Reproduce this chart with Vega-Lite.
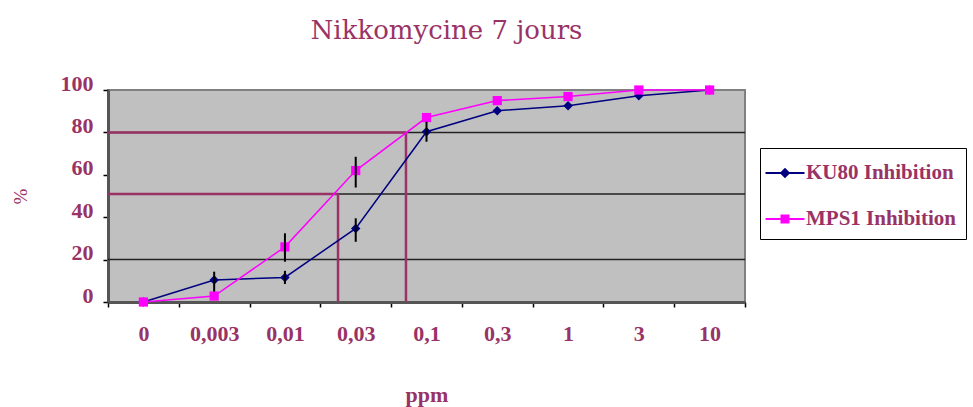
{
  "$schema": "https://vega.github.io/schema/vega-lite/v6.json",
  "width": 637,
  "height": 212,
  "autosize": {"type": "none"},
  "padding": {"left": 108, "top": 90, "right": 228, "bottom": 105},
  "background": "white",
  "title": {
    "text": "Nikkomycine 7 jours",
    "font": "DejaVu Serif",
    "fontSize": 26,
    "fontWeight": "normal",
    "color": "#993366",
    "anchor": "middle",
    "dx": 20,
    "baseline": "bottom",
    "offset": 2
  },
  "config": {
    "view": {"fill": "#c0c0c0", "stroke": "#808080", "strokeWidth": 2}
  },
  "datasets": {
    "series": [
      {"ppm": "0", "pos": 0, "serie": "KU80 Inhibition", "value": 0},
      {"ppm": "0,003", "pos": 1, "serie": "KU80 Inhibition", "value": 10.4},
      {"ppm": "0,01", "pos": 2, "serie": "KU80 Inhibition", "value": 11.6},
      {"ppm": "0,03", "pos": 3, "serie": "KU80 Inhibition", "value": 34.7},
      {"ppm": "0,1", "pos": 4, "serie": "KU80 Inhibition", "value": 80.3},
      {"ppm": "0,3", "pos": 5, "serie": "KU80 Inhibition", "value": 90.2},
      {"ppm": "1", "pos": 6, "serie": "KU80 Inhibition", "value": 92.6},
      {"ppm": "3", "pos": 7, "serie": "KU80 Inhibition", "value": 97.3},
      {"ppm": "10", "pos": 8, "serie": "KU80 Inhibition", "value": 100},
      {"ppm": "0", "pos": 0, "serie": "MPS1 Inhibition", "value": 0},
      {"ppm": "0,003", "pos": 1, "serie": "MPS1 Inhibition", "value": 2.8},
      {"ppm": "0,01", "pos": 2, "serie": "MPS1 Inhibition", "value": 26},
      {"ppm": "0,03", "pos": 3, "serie": "MPS1 Inhibition", "value": 62},
      {"ppm": "0,1", "pos": 4, "serie": "MPS1 Inhibition", "value": 87},
      {"ppm": "0,3", "pos": 5, "serie": "MPS1 Inhibition", "value": 95},
      {"ppm": "1", "pos": 6, "serie": "MPS1 Inhibition", "value": 96.9},
      {"ppm": "3", "pos": 7, "serie": "MPS1 Inhibition", "value": 100},
      {"ppm": "10", "pos": 8, "serie": "MPS1 Inhibition", "value": 100}
    ],
    "errors": [
      {"pos": 1, "serie": "KU80 Inhibition", "lo": 4.9, "hi": 14.3},
      {"pos": 2, "serie": "KU80 Inhibition", "lo": 8.5, "hi": 14.7},
      {"pos": 2, "serie": "MPS1 Inhibition", "lo": 19, "hi": 32.4},
      {"pos": 3, "serie": "KU80 Inhibition", "lo": 28.4, "hi": 39.5},
      {"pos": 3, "serie": "MPS1 Inhibition", "lo": 54, "hi": 68.5},
      {"pos": 4, "serie": "KU80 Inhibition", "lo": 75.6, "hi": 85}
    ],
    "grid": [{"g": 20}, {"g": 51}, {"g": 80}],
    "refs": [
      {"level": 80, "start": -0.5, "end": 3.71, "base": 0},
      {"level": 51, "start": -0.5, "end": 2.75, "base": 0}
    ]
  },
  "layer": [
    {
      "data": {"name": "grid"},
      "mark": {"type": "rule", "color": "#222222", "strokeWidth": 1.5},
      "encoding": {
        "y": {
          "field": "g", "type": "quantitative", "title": "%",
          "scale": {"domain": [0, 100], "nice": false},
          "axis": {
            "values": [0, 20, 40, 60, 80, 100], "grid": false,
            "labelOffset": -7, "tickSize": 5, "tickColor": "black", "tickWidth": 1.5,
            "domainColor": "#555555", "domainWidth": 3, "labelPadding": 10,
            "labelFont": "Liberation Serif", "labelFontWeight": "bold", "labelFontSize": 22,
            "labelColor": "#993366",
            "titleFont": "Liberation Serif", "titleFontSize": 19, "titleFontWeight": "normal",
            "titleColor": "#993366", "titlePadding": 30
          }
        }
      }
    },
    {
      "data": {"name": "refs"},
      "mark": {"type": "rule", "color": "#993366", "strokeWidth": 2.5},
      "encoding": {
        "x": {"field": "start", "type": "quantitative", "title": "ppm"},
        "x2": {"field": "end"},
        "y": {"field": "level", "type": "quantitative", "title": "%"}
      }
    },
    {
      "data": {"name": "refs"},
      "mark": {"type": "rule", "color": "#993366", "strokeWidth": 2.5},
      "encoding": {
        "x": {"field": "end", "type": "quantitative", "title": "ppm"},
        "y": {"field": "base", "type": "quantitative", "title": "%"},
        "y2": {"field": "level"}
      }
    },
    {
      "data": {"name": "series"},
      "transform": [{"filter": "datum.serie === 'KU80 Inhibition'"}],
      "mark": {"type": "line", "color": "#000080", "strokeWidth": 1.5},
      "encoding": {
        "x": {
          "field": "pos", "type": "quantitative", "title": "ppm",
          "scale": {"domain": [-0.5, 8.5], "nice": false, "zero": false},
          "axis": {
            "values": [-0.5, 0.5, 1.5, 2.5, 3.5, 4.5, 5.5, 6.5, 7.5, 8.5],
            "labelExpr": "['0','0,003','0,01','0,03','0,1','0,3','1','3','10',''][round(datum.value+0.5)]",
            "labelOffset": 35.4, "labelOverlap": false, "labelFlush": false, "grid": false,
            "tickSize": 5, "tickColor": "black", "tickWidth": 1.5,
            "domainColor": "#555555", "domainWidth": 3, "labelPadding": 16,
            "labelFont": "Liberation Serif", "labelFontWeight": "bold", "labelFontSize": 22,
            "labelColor": "#993366",
            "titleFont": "Liberation Serif", "titleFontSize": 22, "titleFontWeight": "bold",
            "titleColor": "#993366", "titlePadding": 40
          }
        },
        "y": {"field": "value", "type": "quantitative", "title": "%"}
      }
    },
    {
      "data": {"name": "series"},
      "transform": [{"filter": "datum.serie === 'MPS1 Inhibition'"}],
      "mark": {"type": "line", "color": "#ff00ff", "strokeWidth": 1.5},
      "encoding": {
        "x": {"field": "pos", "type": "quantitative", "title": "ppm"},
        "y": {"field": "value", "type": "quantitative", "title": "%"}
      }
    },
    {
      "data": {"name": "series"},
      "transform": [{"filter": "datum.serie === 'KU80 Inhibition'"}],
      "mark": {"type": "point", "shape": "diamond", "filled": true, "color": "#000080", "size": 90, "opacity": 1},
      "encoding": {
        "x": {"field": "pos", "type": "quantitative", "title": "ppm"},
        "y": {"field": "value", "type": "quantitative", "title": "%"}
      }
    },
    {
      "data": {"name": "series"},
      "transform": [{"filter": "datum.serie === 'MPS1 Inhibition'"}],
      "mark": {"type": "point", "shape": "square", "filled": true, "color": "#ff00ff", "size": 85, "opacity": 1},
      "encoding": {
        "x": {"field": "pos", "type": "quantitative", "title": "ppm"},
        "y": {"field": "value", "type": "quantitative", "title": "%"}
      }
    },
    {
      "data": {"name": "errors"},
      "mark": {"type": "rule", "color": "black", "strokeWidth": 2},
      "encoding": {
        "x": {"field": "pos", "type": "quantitative", "title": "ppm"},
        "y": {"field": "lo", "type": "quantitative", "title": "%"},
        "y2": {"field": "hi"}
      }
    },
    {
      "data": {"name": "series"},
      "mark": {"type": "point", "filled": true, "opacity": 0},
      "encoding": {
        "x": {"field": "pos", "type": "quantitative", "title": "ppm"},
        "y": {"field": "value", "type": "quantitative", "title": "%"},
        "color": {
          "field": "serie", "type": "nominal",
          "scale": {"domain": ["KU80 Inhibition", "MPS1 Inhibition"], "range": ["#000080", "#ff00ff"]},
          "legend": {
            "title": null, "orient": "none", "legendX": 652, "legendY": 58,
            "strokeColor": "black", "fillColor": "white", "padding": 10, "rowPadding": 21,
            "symbolSize": 900, "symbolOpacity": 1, "symbolStrokeWidth": 0,
            "labelFont": "Liberation Serif", "labelFontWeight": "bold", "labelFontSize": 21,
            "labelColor": "#993366", "labelOffset": 6
          }
        },
        "shape": {
          "field": "serie", "type": "nominal",
          "scale": {
            "domain": ["KU80 Inhibition", "MPS1 Inhibition"],
            "range": [
              "M-1.3,-0.06H1.3V0.06H-1.3Z M0,-0.35L0.35,0L0,0.35L-0.35,0Z",
              "M-1.3,-0.06H1.3V0.06H-1.3Z M-0.3,-0.3H0.3V0.3H-0.3Z"
            ]
          },
          "legend": {
            "title": null, "orient": "none", "legendX": 652, "legendY": 58,
            "strokeColor": "black", "fillColor": "white", "padding": 10, "rowPadding": 21,
            "symbolSize": 900, "symbolOpacity": 1, "symbolStrokeWidth": 0,
            "labelFont": "Liberation Serif", "labelFontWeight": "bold", "labelFontSize": 21,
            "labelColor": "#993366", "labelOffset": 6
          }
        }
      }
    }
  ]
}
